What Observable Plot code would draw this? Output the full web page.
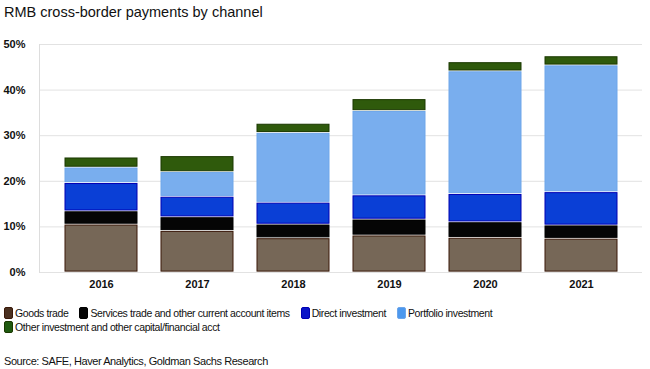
<!DOCTYPE html>
<html>
<head>
<meta charset="utf-8">
<script src="https://cdn.jsdelivr.net/npm/d3@7"></script>
<script src="https://cdn.jsdelivr.net/npm/@observablehq/plot@0.6"></script>
<style>
  html, body { margin: 0; padding: 0; background: #fff; width: 650px; height: 369px; overflow: hidden; }
  #wrap { position: relative; width: 650px; height: 369px; font-family: "Liberation Sans", Arial, sans-serif; }
  #title { position: absolute; left: 4px; top: 4px; font-size: 14.5px; color: #111; white-space: nowrap; }
  #chart { position: absolute; left: 0; top: 36px; }
  #legend { position: absolute; left: 4px; top: 307px; width: 640px; font-size: 10.5px; letter-spacing: -0.4px; color: #111; line-height: 12px; }
  .item { display: inline-flex; align-items: center; margin-right: 11px; white-space: nowrap; }
  .sw { display: inline-block; width: 9px; height: 12px; border-radius: 2px; margin-right: 2px; box-sizing: border-box; }
  #source { position: absolute; left: 4px; top: 355px; font-size: 11px; letter-spacing: -0.42px; color: #111; white-space: nowrap; }
</style>
</head>
<body>
<div id="wrap">
  <div id="title">RMB cross-border payments by channel</div>
  <div id="chart"></div>
  <div id="legend"></div>
  <div id="source">Source: SAFE, Haver Analytics, Goldman Sachs Research</div>
</div>
<script>
const years = ["2016", "2017", "2018", "2019", "2020", "2021"];
const channels = [
  "Goods trade",
  "Services trade and other current account items",
  "Direct investment",
  "Portfolio investment",
  "Other investment and other capital/financial acct"
];
const goodsTrade      = [10.5, 9.1, 7.5, 8.1, 7.6, 7.4];
const servicesTrade   = [2.9, 3.0, 3.0, 3.5, 3.4, 2.9];
const directInvest    = [6.2, 4.5, 4.8, 5.3, 6.2, 7.3];
const portfolioInvest = [3.4, 5.4, 15.3, 18.5, 26.9, 27.8];
const otherInvest     = [2.2, 3.5, 2.0, 2.6, 2.0, 2.0];
const yTicks = [0, 10, 20, 30, 40, 50];

const fillColors   = ["#766757", "#050505", "#0a3fd6", "#79aeee", "#2f5a0c"];
const strokeColors = ["#3a1808", "#000000", "#0000b4", "#6ea6ea", "#1a3800"];
const swatchColors = ["#4a3020", "#050505", "#0a14c8", "#4c98ee", "#1f5a10"];

const seriesValues = [goodsTrade, servicesTrade, directInvest, portfolioInvest, otherInvest];
const table = [];
channels.forEach((c, i) => years.forEach((y, j) => table.push({year: y, channel: c, order: i, value: seriesValues[i][j]})));

const chart = Plot.plot({
  width: 650,
  height: 262,
  marginTop: 8,
  marginBottom: 26,
  marginLeft: 39,
  marginRight: 8,
  style: { fontFamily: "Liberation Sans, Arial, sans-serif", fontSize: "11px", fontWeight: "bold", color: "#111", background: "transparent" },
  x: { domain: years, padding: 0.25, label: null },
  y: { domain: [0, 50], ticks: yTicks, label: null },
  color: { domain: channels, range: fillColors },
  marks: [
    Plot.gridY(yTicks, { stroke: "#e2e2e2", strokeOpacity: 1 }),
    Plot.frame({ anchor: "left", stroke: "#dddddd" }),
    Plot.barY(table, Plot.stackY({
      x: "year", y: "value", fill: "channel", order: "order",
      stroke: d => strokeColors[d.order], strokeWidth: 1,
      insetTop: 0.9, insetBottom: 0.9
    })),
    Plot.axisY(yTicks, { tickSize: 0, tickPadding: 14, tickFormat: d => d + "%", fontWeight: "bold" }),
    Plot.axisX({ tickSize: 0, tickPadding: 8, fontWeight: "bold" })
  ]
});
document.getElementById("chart").appendChild(chart);

const legend = document.getElementById("legend");
channels.forEach((c, i) => {
  const item = document.createElement("span");
  item.className = "item";
  const sw = document.createElement("span");
  sw.className = "sw";
  sw.style.background = swatchColors[i];
  sw.style.border = "1px solid " + strokeColors[i];
  item.appendChild(sw);
  item.appendChild(document.createTextNode(c));
  legend.appendChild(item);
  if (i === 3) legend.appendChild(document.createElement("br"));
});
</script>
</body>
</html>
